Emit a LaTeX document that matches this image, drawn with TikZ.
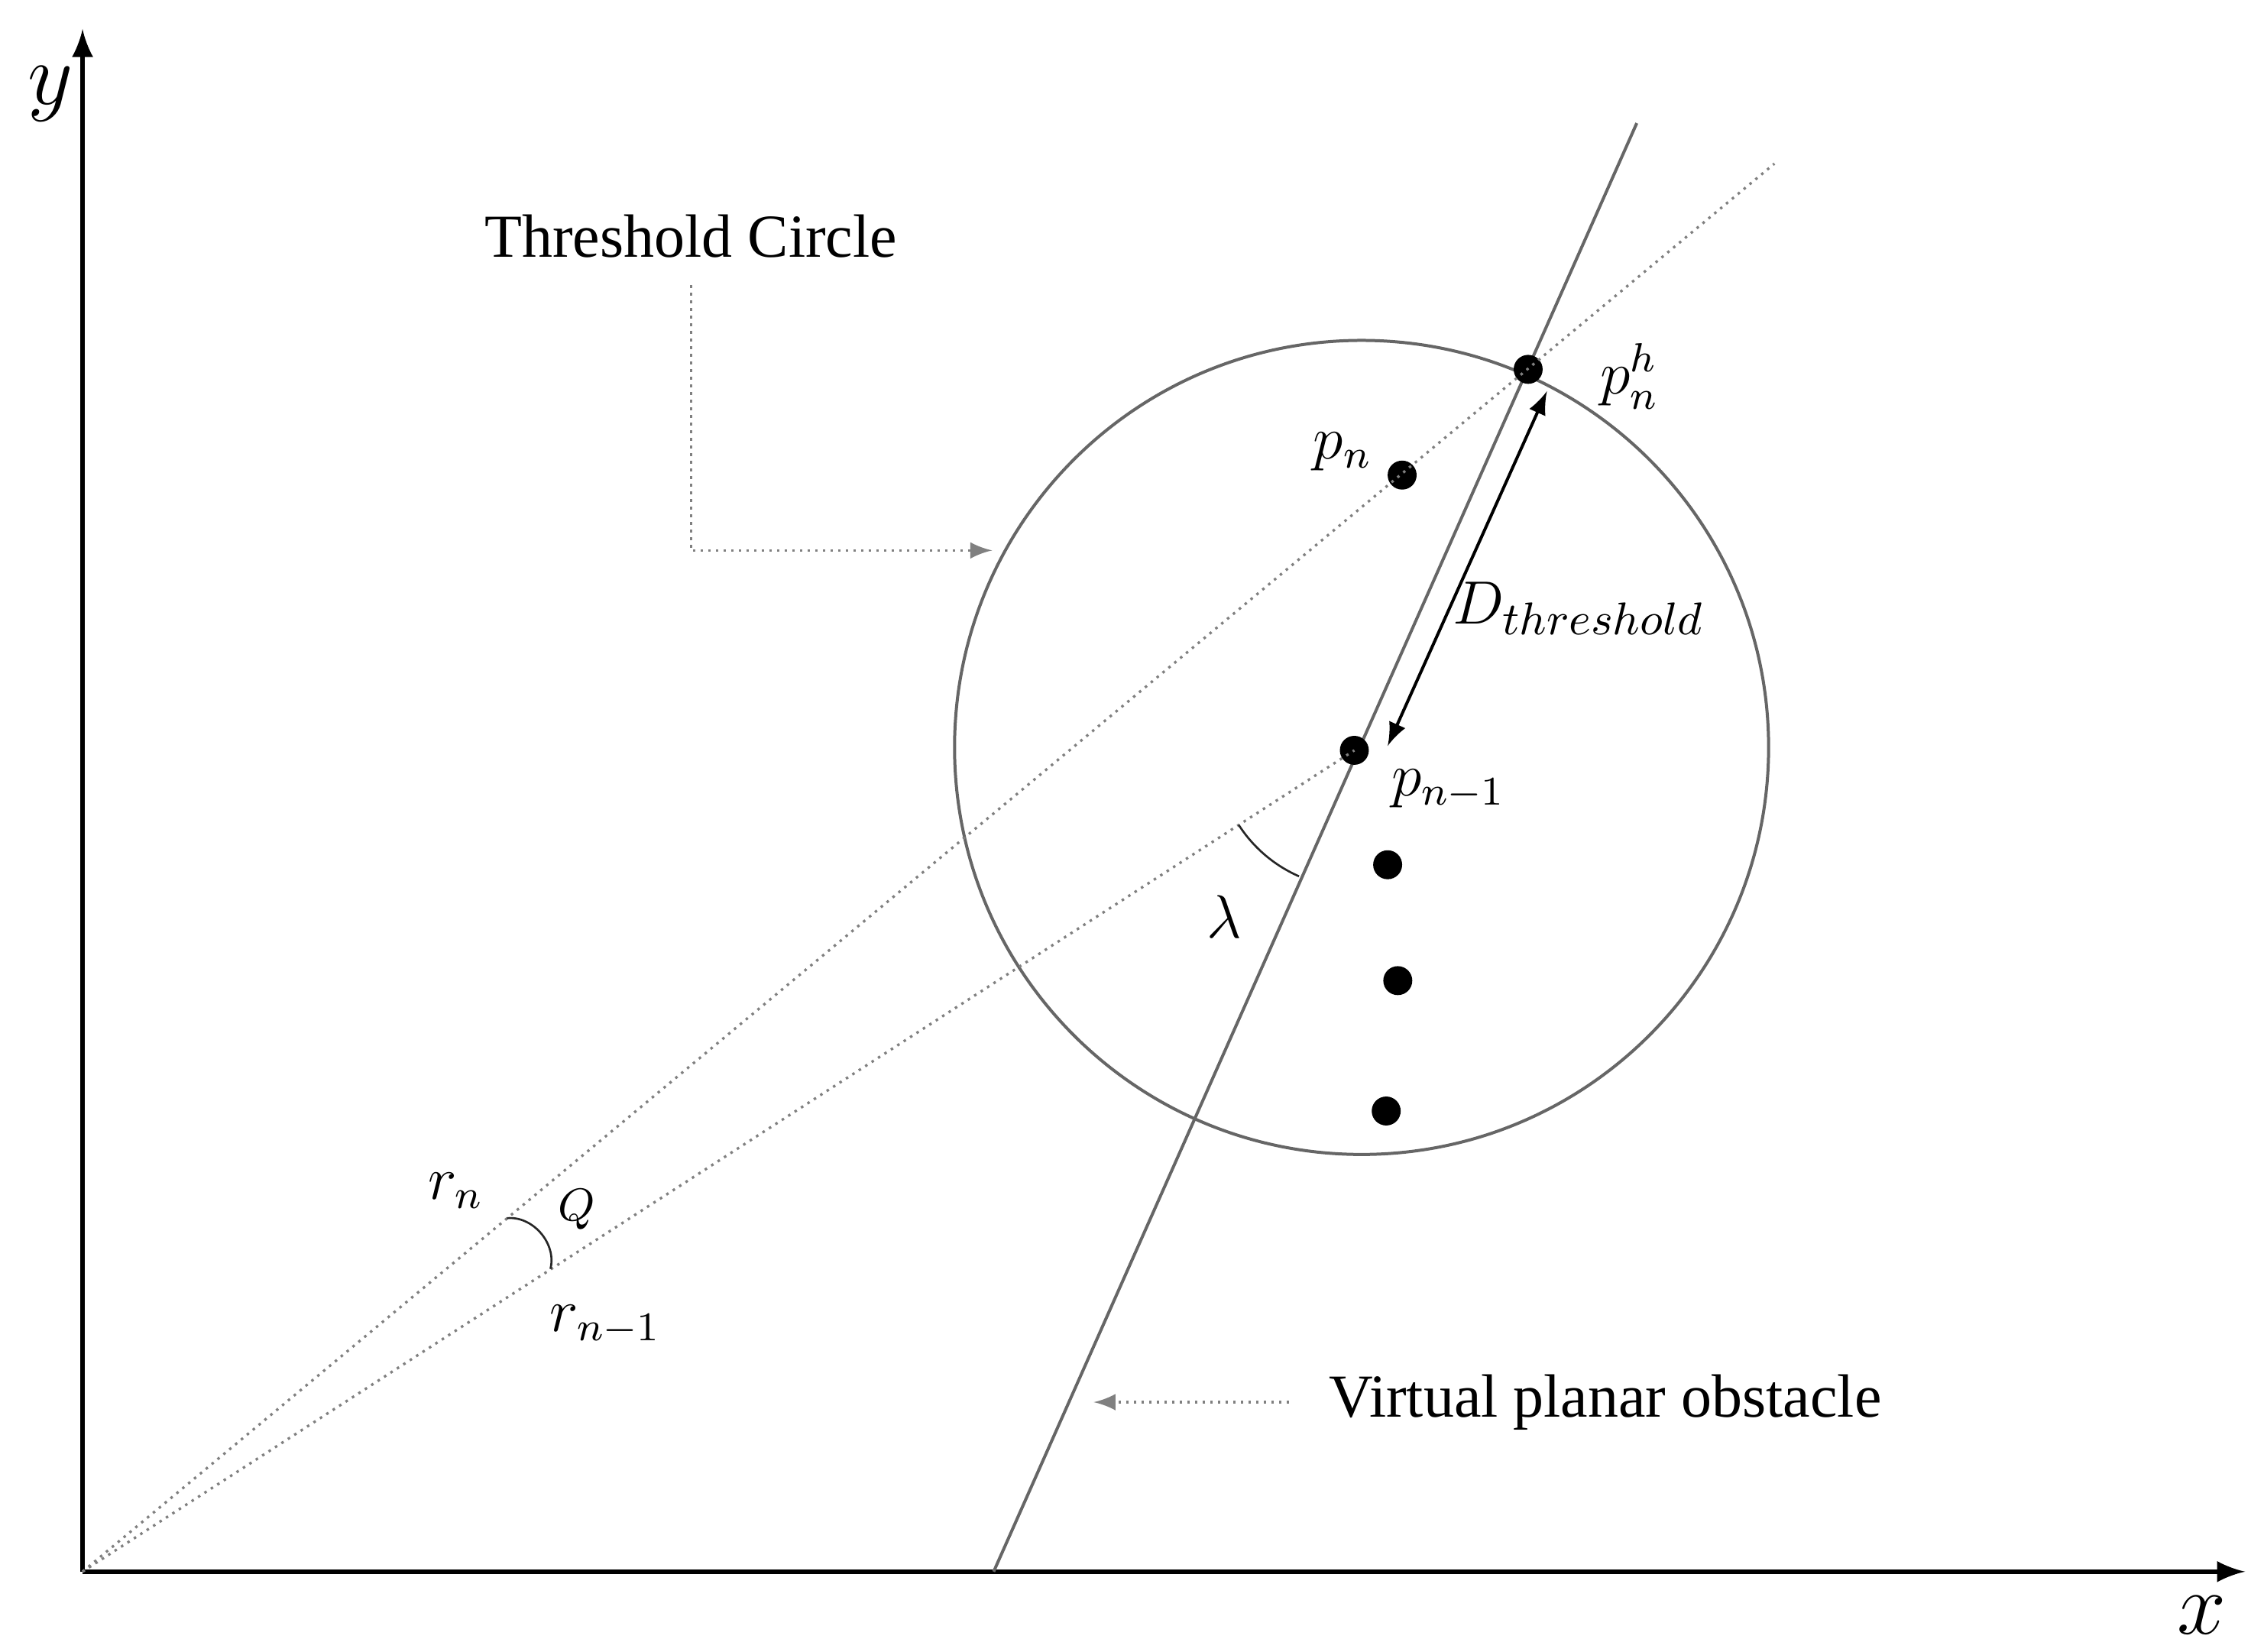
\documentclass[tikz,border=0pt]{standalone}
\usepackage{fontspec}
\setmainfont{Liberation Serif}
\usetikzlibrary{angles}

\tikzset{
  guide/.style = {gray, densely dotted, line width=0.5pt},
  solidline/.style = {gray!80!black, line width=0.6pt},
  dot/.style = {circle, fill = black, inner sep = 0pt, minimum size = 0.2cm},
  lbl/.style = {font = \fontsize{12}{14}\selectfont}
}

\begin{document}
\begin{tikzpicture}
        \useasboundingbox (0, 0) rectangle (15.63, 11.40);

        % axes
        \coordinate (O) at (0.57, 0.55);
        \coordinate (xEnd) at (15.50, 0.55);
        \coordinate (yEnd) at (0.57, 11.20);
        \draw[-latex, line width = 0.9pt] (O) -- (xEnd);
        \draw[-latex, line width = 0.9pt] (O) -- (yEnd);
        \node[font = \fontsize{16}{18}\selectfont] (xLbl) at (15.20, 0.25) {$x$};
        \node[font = \fontsize{16}{18}\selectfont] (yLbl) at (0.35, 10.75) {$y$};

        % circle and obstacle
        \draw[solidline] (9.40, 6.24) circle (2.81);
        \coordinate (obsBottom) at (6.86, 0.55);
        \coordinate (obsTop) at (11.30, 10.55);
        \draw[solidline] (obsBottom) -- (obsTop);

        % points
        \node[dot] (ph) at (10.55, 8.85) {};
        \node[dot] (pn) at (9.68, 8.12) {};
        \node[dot] (pm) at (9.35, 6.22) {};
        \node[dot] (d1) at (9.58, 5.43) {};
        \node[dot] (d2) at (9.65, 4.63) {};
        \node[dot] (d3) at (9.57, 3.73) {};

        \coordinate (rayEnd) at (12.25, 10.27);
        \draw[guide] (O) -- (rayEnd);
        \draw[guide] (O) -- (pm.center);

        % angles
        \pic[draw, gray!30!black, angle radius = 0.95cm] {angle = O--pm--obsBottom};
        \coordinate (qA) at (3.50, 2.99);
        \coordinate (qB) at (3.80, 2.64);
        \draw[gray!30!black] (qA) to[bend left = 55] (qB);

        % distance
        \coordinate (dTop) at (10.68, 8.70);
        \coordinate (dBot) at (9.58, 6.25);
        \draw[latex-latex, line width = 0.6pt] (dTop) -- (dBot);

        % labels
        \node[lbl] (phLbl) at (11.25, 8.80) {$p_n^h$};
        \node[lbl] (pnLbl) at (9.27, 8.28) {$p_n$};
        \node[lbl] (pmLbl) at (10.00, 5.95) {$p_{n-1}$};
        \node[font = \fontsize{13}{15}\selectfont] (dLbl) at (10.90, 7.20) {$D_{threshold}$};
        \node[lbl] (lamLbl) at (8.45, 5.07) {$\lambda$};
        \node[lbl] (rnLbl) at (3.15, 3.18) {$r_n$};
        \node[font = \fontsize{9}{11}\selectfont] (qLbl) at (3.98, 3.05) {$Q$};
        \node[lbl] (rmLbl) at (4.18, 2.25) {$r_{n-1}$};

        % callouts
        \node[font = \fontsize{12}{14}\selectfont] (tcLbl) at (4.77, 9.77) {Threshold Circle};
        \coordinate (tcEnd) at (6.85, 7.60);
        \draw[guide, -latex] (4.77, 9.43) |- (tcEnd);
        \node[font = \fontsize{12}{14}\selectfont, anchor = west] (vpLbl) at (9.05, 1.72) {Virtual planar obstacle};
        \coordinate (vpEnd) at (7.55, 1.72);
        \draw[guide, -latex] (8.90, 1.72) -- (vpEnd);
      \end{tikzpicture}
\end{document}
